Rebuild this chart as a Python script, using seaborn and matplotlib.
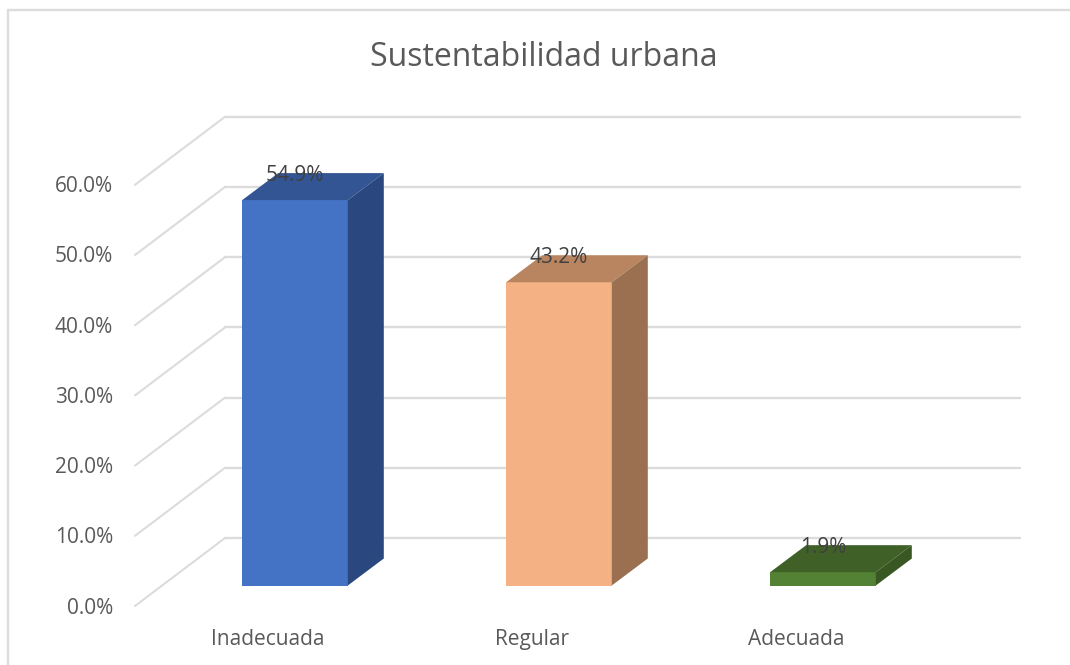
import matplotlib
matplotlib.use("Agg")
import matplotlib.pyplot as plt
import pandas as pd
import seaborn as sns
from matplotlib.lines import Line2D
from matplotlib.patches import Polygon
from matplotlib.transforms import ScaledTranslation

categories = ["Inadecuada", "Regular", "Adecuada"]
values = [54.9, 43.2, 1.9]
labels = ["54.9%", "43.2%", "1.9%"]
grid_values = [0, 10, 20, 30, 40, 50, 60]
grid_labels = ["0.0%", "10.0%", "20.0%", "30.0%", "40.0%", "50.0%", "60.0%"]

front_colors = ["#4472C4", "#F4B183", "#548235"]
top_colors = ["#335593", "#B98560", "#3F6128"]
side_colors = ["#2A487F", "#9A7051", "#385723"]

GRID = "#DCDCDC"
TEXT = "#595959"

sns.set_theme(style="white")
plt.rcParams["font.family"] = ["Open Sans", "DejaVu Sans"]

W, H = 1070, 665
fig = plt.figure(figsize=(W / 100, H / 100), dpi=100)
# axes box is the front plane: 3 categories, 0 at y=585.5, 7.02 px per percent
ax = fig.add_axes([163 / W, 1 - 585.5 / H, 792 / W, 421.2 / H])

df = pd.DataFrame({"cat": categories, "val": values})
sns.barplot(data=df, x="cat", y="val", hue="cat", palette=front_colors,
            width=0.4, saturation=1, legend=False, ax=ax, zorder=3,
            edgecolor="none", linewidth=0)
ax.set_xlim(-0.5, 2.5)
ax.set_ylim(0, 60)
ax.set_xlabel("")
ax.set_ylabel("")
sns.despine(ax=ax, left=True, bottom=True)

# px -> data helpers
px_x = 1 / 264
px_y = 1 / 7.02
depth_x = 36 * px_x
depth_y = 27 * px_y

# walls
for v in grid_values:
    x0 = -0.5 + (135 - 163) * px_x
    x1 = -0.5 + (225 - 163) * px_x
    x2 = -0.5 + (1020 - 163) * px_x
    y0 = v - 20.5 * px_y
    y1 = v + 47.5 * px_y
    ax.plot([x0, x1], [y0, y1], color=GRID, lw=1.5, clip_on=False, zorder=1)
    ax.plot([x1, x2], [y1, y1], color=GRID, lw=1.7, clip_on=False, zorder=1)

# depth faces of the bars
for bar, top_c, side_c in zip(ax.patches, top_colors, side_colors):
    l, r = bar.get_x(), bar.get_x() + bar.get_width()
    h = bar.get_height()
    ax.add_patch(Polygon([(l, h), (r, h), (r + depth_x, h + depth_y), (l + depth_x, h + depth_y)],
                         closed=True, fc=top_c, ec="none", clip_on=False, zorder=3))
    ax.add_patch(Polygon([(r, 0), (r + depth_x, depth_y), (r + depth_x, h + depth_y), (r, h)],
                         closed=True, fc=side_c, ec="none", clip_on=False, zorder=3))

for i, (v, t) in enumerate(zip(values, labels)):
    ax.annotate(t, (i, v), xytext=(0, 18), textcoords="offset points",
                ha="center", va="center", fontsize=15, color="#404040", zorder=5)

ax.set_yticks(grid_values)
ax.set_yticklabels(grid_labels)
ax.tick_params(axis="y", length=0, pad=36, labelsize=15, labelcolor=TEXT)
ax.tick_params(axis="x", length=0, pad=31, labelsize=15, labelcolor=TEXT)
for lab in ax.get_yticklabels():
    lab.set_transform(lab.get_transform() + ScaledTranslation(0, -20 / 100, fig.dpi_scale_trans))
for lab in ax.get_xticklabels():
    lab.set_transform(lab.get_transform() + ScaledTranslation(-27 / 100, 0, fig.dpi_scale_trans))

fig.text(544 / W, 1 - 57 / H, "Sustentabilidad urbana", ha="center", va="center",
         fontsize=23, color=TEXT)

# chart frame, cropped at the right and bottom
fig.add_artist(Line2D([8 / W, 8 / W], [0, 1 - 10 / H], color=GRID, lw=1.7))
fig.add_artist(Line2D([8 / W, 1], [1 - 10 / H, 1 - 10 / H], color=GRID, lw=1.7))

fig.savefig("out.png", dpi=100, facecolor="white")
